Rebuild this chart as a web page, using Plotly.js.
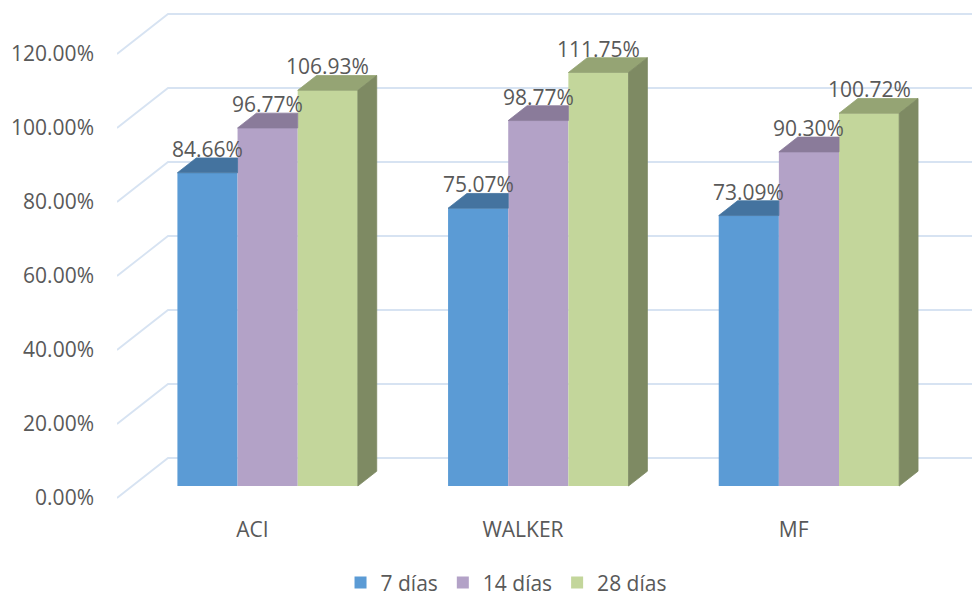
<!DOCTYPE html>
<html>
<head>
<meta charset="utf-8">
<script src="https://cdn.plot.ly/plotly-3.0.1.min.js"></script>
<style>
  html, body { margin: 0; padding: 0; background: #ffffff; }
  #chart { width: 972px; height: 596px; }
</style>
</head>
<body>
<div id="chart"></div>
<script>
// ---- data ----
const categories = ['ACI', 'WALKER', 'MF'];
const seriesNames = ['7 días', '14 días', '28 días'];
const dias7 = [84.66, 75.07, 73.09];
const dias14 = [96.77, 98.77, 90.30];
const dias28 = [106.93, 111.75, 100.72];
const yTicks = [0, 20, 40, 60, 80, 100, 120];
const yTickLabels = yTicks.map(v => v.toFixed(2) + '%');

// ---- styling / 3D projection constants ----
const series = [dias7, dias14, dias28];
const frontColors = ['#5B9BD5', '#B3A2C7', '#C3D69B'];
const topColors = ['#44739F', '#8A7B9A', '#95A474'];
const sideColors = ['#3A6690', '#776A86', '#7E8A63'];
const textColor = '#595959';
const fontFamily = '"Open Sans", "Noto Sans", sans-serif';

const DX = 0.1885;      // x shift (category units) for full floor depth
const DY = 10.81;       // y shift (% units) for full floor depth
const BAR_FRONT = 0.30; // depth fraction where bar fronts sit
const BAR_DEPTH = 0.37; // depth fraction occupied by a bar
const W = 1 / 4.5;      // bar width (gap width 150%)
const X_MIN = -0.5, X_MAX = 2.659;
const Y_MIN = -2.16, Y_MAX = 134.59;

const base = BAR_FRONT * DY;
const bx = BAR_DEPTH * DX, by = BAR_DEPTH * DY;

const traces = [];
const annotations = [];

// front faces as bars
series.forEach((vals, j) => {
  traces.push({
    type: 'bar',
    name: seriesNames[j],
    x: categories.map((c, i) => i),
    y: vals,
    base: base,
    width: W,
    offset: (-1.5 + j) * W + BAR_FRONT * DX,
    marker: { color: frontColors[j], line: { width: 0 } },
    hoverinfo: 'skip'
  });
});

// top faces and the exposed right side of the last bar in each group
series.forEach((vals, j) => {
  const tx = [], ty = [], sx = [], sy = [];
  vals.forEach((v, i) => {
    const xl = i + (-1.5 + j) * W + BAR_FRONT * DX;
    const xr = xl + W;
    const yt = base + v;
    const last = j === series.length - 1;
    if (last) {
      tx.push(xl, xr, xr + bx, xl + bx, xl, null);
      ty.push(yt, yt, yt + by, yt + by, yt, null);
      sx.push(xr, xr + bx, xr + bx, xr, xr, null);
      sy.push(base, base + by, yt + by, yt, base, null);
    } else {
      // the neighbouring (taller) bar hides the part right of xr
      tx.push(xl, xr, xr, xl + bx, xl, null);
      ty.push(yt, yt, yt + by, yt + by, yt, null);
    }
    annotations.push({
      x: xl + W / 2, y: yt, xref: 'x', yref: 'y',
      text: v.toFixed(2) + '%', showarrow: false,
      yanchor: 'middle', xanchor: 'center', yshift: 24,
      font: { family: fontFamily, size: 21, color: textColor }
    });
  });
  traces.push({
    type: 'scatter', mode: 'lines', x: tx, y: ty, fill: 'toself',
    fillcolor: topColors[j], line: { color: topColors[j], width: 0.8 },
    showlegend: false, hoverinfo: 'skip'
  });
  if (sx.length) {
    traces.push({
      type: 'scatter', mode: 'lines', x: sx, y: sy, fill: 'toself',
      fillcolor: sideColors[j], line: { color: sideColors[j], width: 0.8 },
      showlegend: false, hoverinfo: 'skip'
    });
  }
});

// gridlines: slanted along the left side wall, then across the back wall
const shapes = yTicks.map(v => ({
  type: 'path', xref: 'x', yref: 'y', layer: 'below',
  path: `M ${X_MIN},${v} L ${X_MIN + DX},${v + DY} L ${X_MAX + 1},${v + DY}`,
  line: { color: '#D7E3F2', width: 1.8 }
}));

const layout = {
  width: 972, height: 596,
  margin: { l: 117, r: 0, t: 0, b: 90, autoexpand: false },
  paper_bgcolor: '#ffffff', plot_bgcolor: '#ffffff',
  font: { family: fontFamily, size: 21, color: textColor },
  barmode: 'overlay',
  showlegend: true,
  legend: {
    orientation: 'h', x: 0.455, xanchor: 'center',
    yref: 'container', y: 0.022, yanchor: 'middle',
    font: { family: fontFamily, size: 21, color: textColor },
    itemwidth: 30, traceorder: 'normal'
  },
  xaxis: {
    range: [X_MIN, X_MAX], tickvals: [0, 1, 2], ticktext: categories,
    showgrid: false, zeroline: false, showline: false, ticks: '',
    ticklabelstandoff: 9, fixedrange: true, automargin: false
  },
  yaxis: {
    range: [Y_MIN, Y_MAX], tickvals: yTicks, ticktext: yTickLabels,
    showgrid: false, zeroline: false, showline: false, ticks: '',
    ticklabelstandoff: 22, fixedrange: true, automargin: false
  },
  shapes: shapes,
  annotations: annotations
};

Plotly.newPlot('chart', traces, layout, { displayModeBar: false, staticPlot: true });
</script>
</body>
</html>
